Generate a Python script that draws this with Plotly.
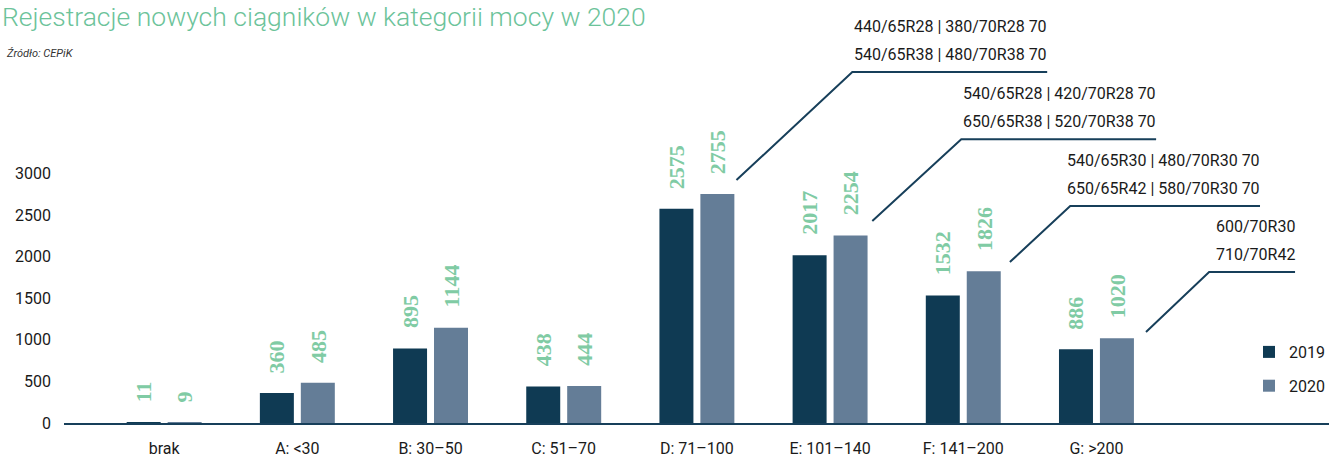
import plotly.graph_objects as go

# ---- data ----
categories = ["brak", "A: <30", "B: 30–50", "C: 51–70", "D: 71–100",
              "E: 101–140", "F: 141–200", "G: >200"]
v2019 = [11, 360, 895, 438, 2575, 2017, 1532, 886]
v2020 = [9, 485, 1144, 444, 2755, 2254, 1826, 1020]
series_names = ["2019", "2020"]
y_ticks = [0, 500, 1000, 1500, 2000, 2500, 3000]
callout_line1 = ["440/65R28 | 380/70R28 70", "540/65R28 | 420/70R28 70",
                 "540/65R30 | 480/70R30 70", "600/70R30"]
callout_line2 = ["540/65R38 | 480/70R38 70", "650/65R38 | 520/70R38 70",
                 "650/65R42 | 580/70R30 70", "710/70R42"]
title_text = "Rejestracje nowych ciągników w kategorii mocy w 2020"
source_text = "Źródło: CEPiK"

# ---- style ----
C2019 = "#0f3a53"
C2020 = "#647d97"
GREEN_T = "#6cc39a"
GREEN_L = "#80cba4"
LINE = "#173f5a"
SANS = "Roboto, Liberation Sans, sans-serif"
SERIF = "Liberation Serif, DejaVu Serif, serif"

W, H = 1330, 460
ML, MR, MT, MB = 64, 0, 40, 37
plot_h = H - MT - MB
px_per_unit = 249.5 / 3000.0
y_max = plot_h / px_per_unit

fig = go.Figure()
for name, vals, col in [(series_names[0], v2019, C2019), (series_names[1], v2020, C2020)]:
    fig.add_trace(go.Bar(name=name, x=categories, y=vals, marker_color=col,
                         marker_line_width=0, legendgroup=name))

# value labels (rotated, above bars)
for vals, shift in [(v2019, -20.5), (v2020, 20.5)]:
    for c, v in zip(categories, vals):
        fig.add_annotation(x=c, y=v, xref="x", yref="y", text=str(v),
                           showarrow=False, textangle=-90, xshift=shift,
                           yanchor="bottom", xanchor="center", yshift=18,
                           font=dict(family=SERIF, size=22, color=GREEN_L,
                                     weight="bold"))

# callouts: (start x, start y, elbow x, elbow y, end x) in axis units
callout_geom = [
    (4.297, 2921, 5.167, 4219, 6.630),
    (5.317, 2428, 5.985, 3413, 7.448),
    (6.350, 1935, 6.803, 2608, 8.228),
    (7.372, 1094, 7.846, 1815, 8.491),
]
for (x0, y0, x1, y1, x2), t1, t2 in zip(callout_geom, callout_line1, callout_line2):
    fig.add_shape(type="path", xref="x", yref="y",
                  path=f"M {x0},{y0} L {x1},{y1} L {x2},{y1}",
                  line=dict(color=LINE, width=2))
    for txt, dy in [(t2, 18), (t1, 46)]:
        fig.add_annotation(x=x2, y=y1, xref="x", yref="y", text=txt, showarrow=False,
                           xanchor="right", yanchor="middle", align="right",
                           yshift=dy, xshift=2,
                           font=dict(family=SANS, size=16, color="#1a1a1a"))

# title + source
fig.add_annotation(x=0, y=1, xref="paper", yref="paper", text=title_text,
                   showarrow=False, xanchor="left", yanchor="top",
                   xshift=-ML, yshift=MT + 1,
                   font=dict(family=SANS, size=26.5, color=GREEN_T, weight=300))
fig.add_annotation(x=0, y=1, xref="paper", yref="paper", text=source_text,
                   showarrow=False, xanchor="left", yanchor="top",
                   xshift=-ML + 4, yshift=MT - 45,
                   font=dict(family=SANS, size=11, color="#333333", style="italic"))

fig.update_layout(
    width=W, height=H,
    margin=dict(l=ML, r=MR, t=MT, b=MB, pad=0),
    paper_bgcolor="white", plot_bgcolor="white",
    barmode="group", bargap=0.385, bargroupgap=0.17,
    showlegend=True,
    legend=dict(x=(1250 - ML) / (W - ML - MR), y=(423 - 335) / plot_h,
                xanchor="left", yanchor="top", traceorder="grouped",
                tracegroupgap=10, bgcolor="rgba(0,0,0,0)",
                font=dict(family=SANS, size=16, color="#1a1a1a")),
    xaxis=dict(type="category", range=[-0.752, 8.746], showgrid=False,
               showline=True, linecolor=LINE, linewidth=2, ticks="",
               tickfont=dict(family=SANS, size=16, color="#1a1a1a"),
               ticklabelstandoff=10),
    yaxis=dict(range=[0, y_max], tickvals=y_ticks, showgrid=False,
               zeroline=False, showline=False, ticks="",
               tickfont=dict(family=SANS, size=16, color="#1a1a1a"),
               ticklabelstandoff=12),
)

fig.write_html("out.html", config={"displayModeBar": False},
               post_script="document.body.style.margin='0';"
                           "document.body.style.overflow='hidden';")
